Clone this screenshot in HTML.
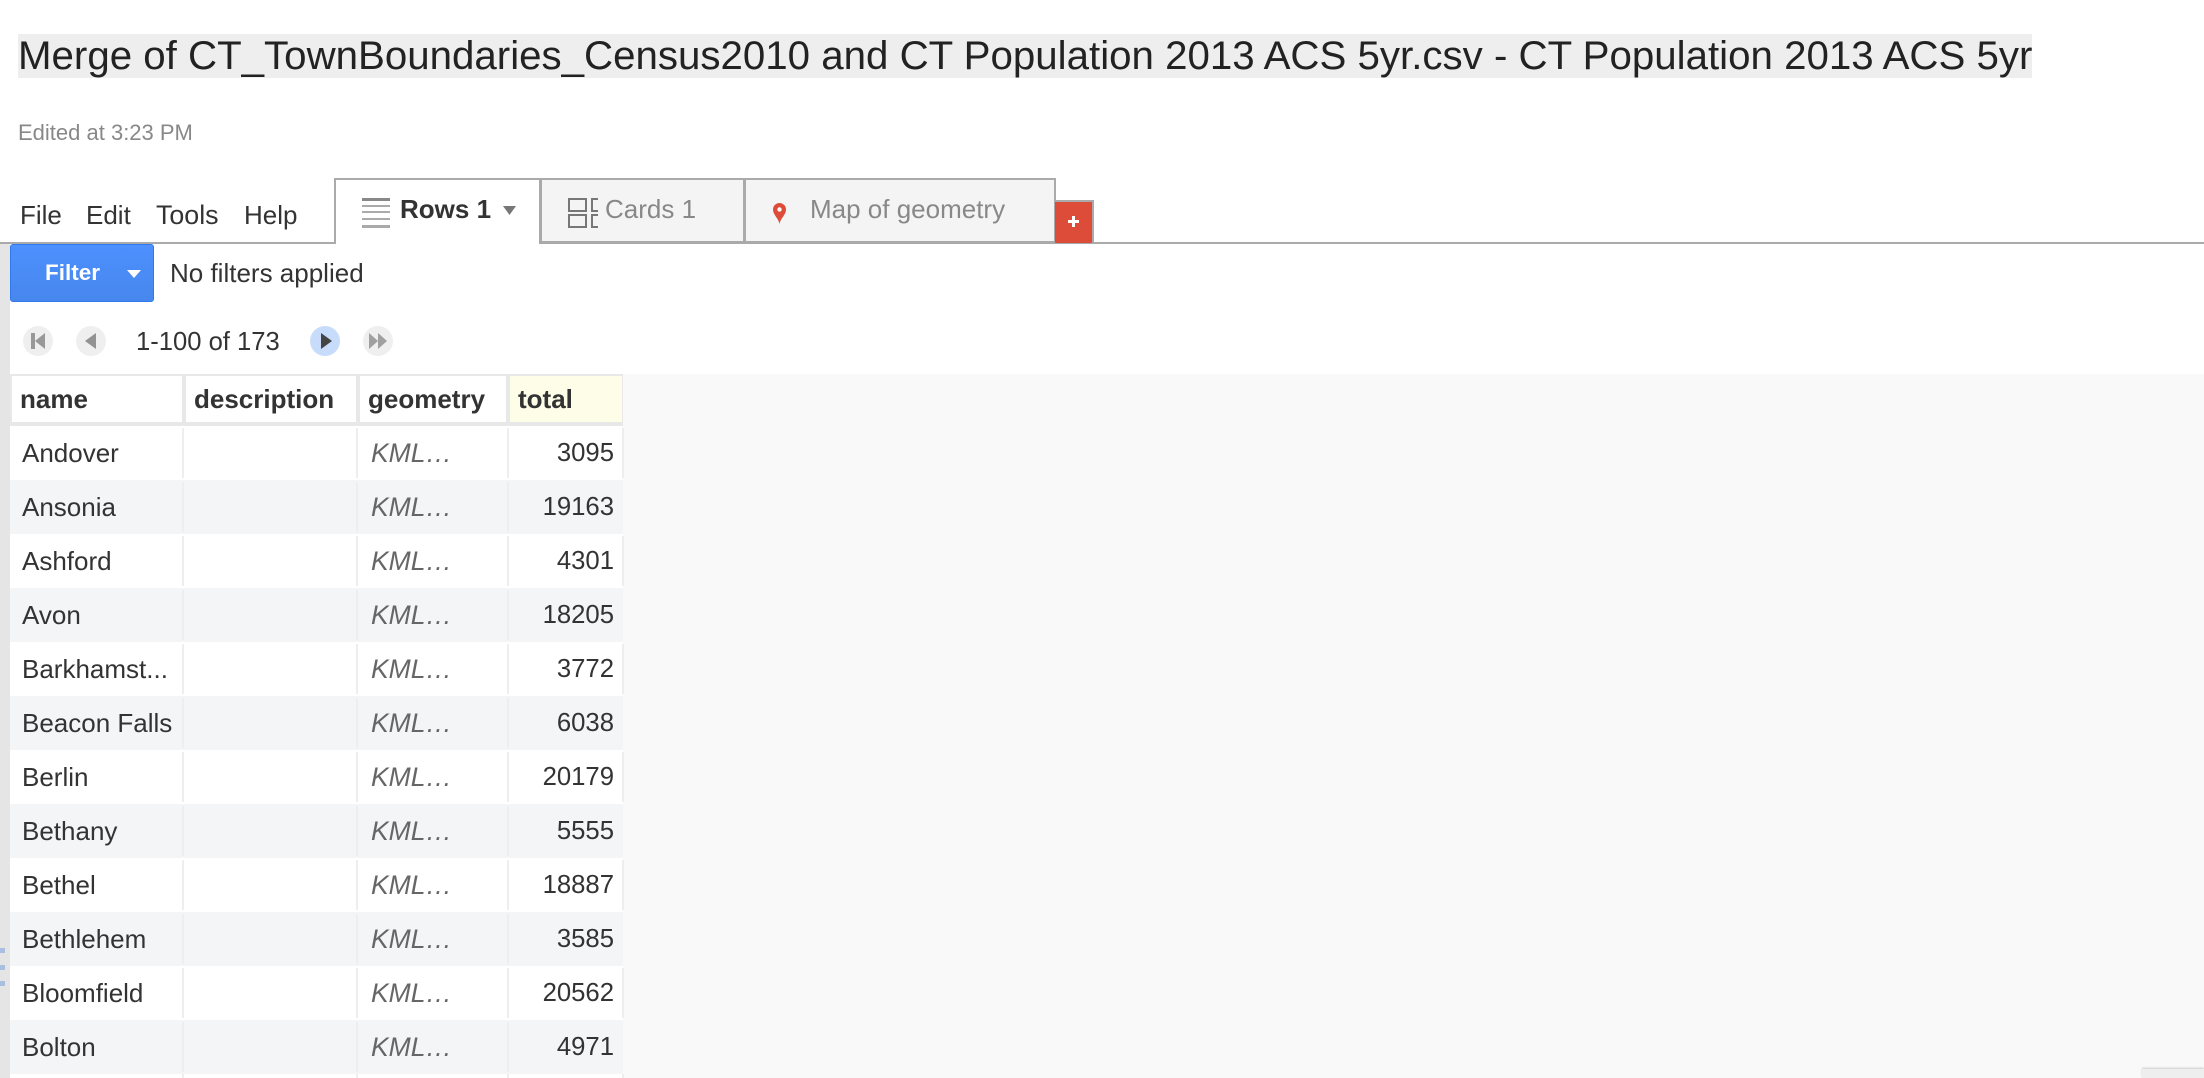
<!DOCTYPE html>
<html lang="en">
<head>
<meta charset="utf-8">
<title>Merge of CT_TownBoundaries_Census2010 and CT Population 2013 ACS 5yr.csv</title>
<style>
html,body{margin:0;padding:0;background:#fff;}
#page{position:relative;width:2204px;height:1078px;overflow:hidden;background:#fff;font-family:"Liberation Sans",Arial,sans-serif;color:#333;}
#page div,#page span.a,#page svg{position:absolute;}
.t{white-space:nowrap;line-height:1;font-size:26px;}
.cell{height:54px;box-sizing:border-box;}
.row-bg{left:10px;width:613px;height:54px;}
.alt{background:#f4f5f6;}
.sep{width:2px;height:50px;background:#eeeeee;}
.hdr{top:376px;height:46px;background:#fff;}
.hl{top:386px;font-weight:bold;color:#333;}
.nm{left:22px;}
.km{left:371px;font-style:italic;color:#666;font-size:26.5px;}
.nu{right:1590px;text-align:right;font-size:25.7px;margin-top:1px;}
</style>
</head>
<body>
<div id="page">

<div style="left:18px;top:34px;width:2014px;height:44px;background:#eeeeee;"></div>
<div class="t" style="left:18px;top:36px;font-size:40.25px;color:#222;">Merge of CT_TownBoundaries_Census2010 and CT Population 2013 ACS 5yr.csv - CT Population 2013 ACS 5yr</div>
<div class="t" style="left:18px;top:122px;font-size:22px;color:#888;">Edited at 3:23 PM</div>

<div style="left:0;top:200px;width:334px;height:40px;">
<div class="t" style="left:20px;top:2px;">File</div>
<div class="t" style="left:86px;top:2px;">Edit</div>
<div class="t" style="left:156px;top:2px;font-size:26.8px;">Tools</div>
<div class="t" style="left:244px;top:2px;">Help</div>
</div>

<div style="left:0;top:242px;width:2204px;height:2px;background:#aaaaaa;"></div>

<div style="left:334px;top:178px;width:207px;height:66px;box-sizing:border-box;border:2px solid #aaaaaa;border-bottom:none;background:#fff;">
<svg style="left:26px;top:18px;" width="28" height="30" viewBox="0 0 28 30">
<rect x="0" y="0" width="28" height="3" fill="#888"/><rect x="0" y="7" width="28" height="2" fill="#aaa"/><rect x="0" y="13" width="28" height="2" fill="#aaa"/><rect x="0" y="20" width="28" height="2" fill="#aaa"/><rect x="0" y="27" width="28" height="3" fill="#aaa"/>
</svg>
<div class="t" style="left:64px;top:16px;font-weight:bold;color:#333;">Rows 1</div>
<svg style="left:167px;top:26px;" width="13" height="9" viewBox="0 0 13 9"><polygon points="0,0 13,0 6.5,9" fill="#777"/></svg>
</div>

<div style="left:540px;top:178px;width:205px;height:65px;box-sizing:border-box;border:2px solid #aaaaaa;border-left:2px solid #aaaaaa;background:#f4f4f4;">
<svg style="left:26px;top:18px;" width="30" height="30" viewBox="0 0 30 30">
<rect x="1" y="1" width="17" height="12" fill="none" stroke="#777" stroke-width="2"/><rect x="1" y="17" width="17" height="12" fill="none" stroke="#777" stroke-width="2"/>
<path d="M30 1H24V13H30M30 17H24V29H30" fill="none" stroke="#777" stroke-width="2"/>
</svg>
<div class="t" style="left:63px;top:16px;color:#888;">Cards 1</div>
</div>

<div style="left:744px;top:178px;width:312px;height:65px;box-sizing:border-box;border:2px solid #aaaaaa;border-left:2px solid #aaaaaa;background:#f4f4f4;">
<svg style="left:27px;top:23px;" width="13" height="21" viewBox="0 0 13 21"><path d="M6.5 21C5.5 15 0 12 0 6.5a6.5 6.5 0 0 1 13 0C13 12 7.5 15 6.5 21z" fill="#dd4b39"/><circle cx="6.5" cy="6.5" r="2.2" fill="#fff"/></svg>
<div class="t" style="left:64px;top:16px;color:#888;">Map of geometry</div>
</div>

<div style="left:1055px;top:200px;width:39px;height:43px;box-sizing:border-box;border:2px solid #aaaaaa;border-left:none;border-bottom:none;background:#dd4b39;">
<svg style="left:13px;top:14px;" width="11" height="11" viewBox="0 0 11 11"><path d="M4 0h3v4h4v3H7v4H4V7H0V4h4z" fill="#fff"/></svg>
</div>

<div style="left:0;top:244px;width:10px;height:834px;background:#e5e5e5;"></div>
<div style="left:0;top:948px;width:5px;height:5px;background:#a8bfe2;"></div>
<div style="left:0;top:965px;width:5px;height:5px;background:#a8bfe2;"></div>
<div style="left:0;top:981px;width:5px;height:5px;background:#a8bfe2;"></div>

<div style="left:10px;top:244px;width:144px;height:58px;box-sizing:border-box;border:1px solid #3079ed;border-radius:3px;background:linear-gradient(#4d90fe,#4787ed);">
<div class="t" style="left:34px;top:17px;font-size:22.5px;font-weight:bold;color:#fff;">Filter</div>
<svg style="left:116px;top:25px;" width="14" height="8" viewBox="0 0 14 8"><polygon points="0,0 14,0 7,8" fill="#fff"/></svg>
</div>
<div class="t" style="left:170px;top:260px;color:#333;">No filters applied</div>

<div style="left:23px;top:326px;width:30px;height:30px;border-radius:50%;background:#efefef;">
<svg style="left:7px;top:6px;" width="16" height="18" viewBox="0 0 16 18"><rect x="1" y="1" width="4" height="16" fill="#999"/><polygon points="15,1 15,17 5,9" fill="#999"/></svg>
</div>
<div style="left:76px;top:326px;width:30px;height:30px;border-radius:50%;background:#efefef;">
<svg style="left:8px;top:6px;" width="12" height="18" viewBox="0 0 12 18"><polygon points="12,1 12,17 1,9" fill="#929292"/></svg>
</div>
<div class="t" style="left:136px;top:330px;font-size:25.6px;color:#333;">1-100 of 173</div>
<div style="left:310px;top:326px;width:30px;height:30px;border-radius:50%;background:#c7dcfa;">
<svg style="left:11px;top:6px;" width="12" height="18" viewBox="0 0 12 18"><polygon points="0,1 0,17 11,9" fill="#444"/></svg>
</div>
<div style="left:363px;top:326px;width:30px;height:30px;border-radius:50%;background:#efefef;">
<svg style="left:6px;top:7px;" width="18" height="16" viewBox="0 0 18 16"><polygon points="0,0 0,16 9,8" fill="#a0a0a0"/><polygon points="9,0 9,16 18,8" fill="#a0a0a0"/></svg>
</div>

<div style="left:623px;top:374px;width:1581px;height:704px;background:#f9f9f9;"></div>
<div style="left:2142px;top:1069px;width:62px;height:9px;background:#eeeeee;box-shadow:0 -1px 2px #cccccc;"></div>

<div style="left:10px;top:374px;width:613px;height:52px;background:#e8e8e8;"></div>
<div class="hdr" style="left:12px;width:170px;"></div>
<div class="hdr" style="left:186px;width:170px;"></div>
<div class="hdr" style="left:360px;width:146px;"></div>
<div class="hdr" style="left:510px;width:112px;background:#fdfde8;"></div>
<div class="t hl" style="left:20px;">name</div>
<div class="t hl" style="left:194px;">description</div>
<div class="t hl" style="left:368px;">geometry</div>
<div class="t hl" style="left:518px;">total</div>

<div class="row-bg" style="top:426px;"><div class="sep" style="left:172px;top:2px;"></div><div class="sep" style="left:346px;top:2px;"></div><div class="sep" style="left:497px;top:2px;"></div><div class="sep" style="left:612px;top:2px;"></div></div>
<div class="row-bg alt" style="top:480px;"><div class="sep" style="left:172px;top:2px;"></div><div class="sep" style="left:346px;top:2px;"></div><div class="sep" style="left:497px;top:2px;"></div></div>
<div class="row-bg" style="top:534px;"><div class="sep" style="left:172px;top:2px;"></div><div class="sep" style="left:346px;top:2px;"></div><div class="sep" style="left:497px;top:2px;"></div><div class="sep" style="left:612px;top:2px;"></div></div>
<div class="row-bg alt" style="top:588px;"><div class="sep" style="left:172px;top:2px;"></div><div class="sep" style="left:346px;top:2px;"></div><div class="sep" style="left:497px;top:2px;"></div></div>
<div class="row-bg" style="top:642px;"><div class="sep" style="left:172px;top:2px;"></div><div class="sep" style="left:346px;top:2px;"></div><div class="sep" style="left:497px;top:2px;"></div><div class="sep" style="left:612px;top:2px;"></div></div>
<div class="row-bg alt" style="top:696px;"><div class="sep" style="left:172px;top:2px;"></div><div class="sep" style="left:346px;top:2px;"></div><div class="sep" style="left:497px;top:2px;"></div></div>
<div class="row-bg" style="top:750px;"><div class="sep" style="left:172px;top:2px;"></div><div class="sep" style="left:346px;top:2px;"></div><div class="sep" style="left:497px;top:2px;"></div><div class="sep" style="left:612px;top:2px;"></div></div>
<div class="row-bg alt" style="top:804px;"><div class="sep" style="left:172px;top:2px;"></div><div class="sep" style="left:346px;top:2px;"></div><div class="sep" style="left:497px;top:2px;"></div></div>
<div class="row-bg" style="top:858px;"><div class="sep" style="left:172px;top:2px;"></div><div class="sep" style="left:346px;top:2px;"></div><div class="sep" style="left:497px;top:2px;"></div><div class="sep" style="left:612px;top:2px;"></div></div>
<div class="row-bg alt" style="top:912px;"><div class="sep" style="left:172px;top:2px;"></div><div class="sep" style="left:346px;top:2px;"></div><div class="sep" style="left:497px;top:2px;"></div></div>
<div class="row-bg" style="top:966px;"><div class="sep" style="left:172px;top:2px;"></div><div class="sep" style="left:346px;top:2px;"></div><div class="sep" style="left:497px;top:2px;"></div><div class="sep" style="left:612px;top:2px;"></div></div>
<div class="row-bg alt" style="top:1020px;"><div class="sep" style="left:172px;top:2px;"></div><div class="sep" style="left:346px;top:2px;"></div><div class="sep" style="left:497px;top:2px;"></div></div>
<div class="row-bg" style="top:1074px;"><div class="sep" style="left:172px;top:0;"></div><div class="sep" style="left:346px;top:0;"></div><div class="sep" style="left:497px;top:0;"></div><div class="sep" style="left:612px;top:0;"></div></div>

<div class="t nm" style="top:440px;">Andover</div><div class="t km" style="top:440px;">KML…</div><div class="t nu" style="top:440px;">3095</div>
<div class="t nm" style="top:494px;">Ansonia</div><div class="t km" style="top:494px;">KML…</div><div class="t nu" style="top:494px;">19163</div>
<div class="t nm" style="top:548px;">Ashford</div><div class="t km" style="top:548px;">KML…</div><div class="t nu" style="top:548px;">4301</div>
<div class="t nm" style="top:602px;">Avon</div><div class="t km" style="top:602px;">KML…</div><div class="t nu" style="top:602px;">18205</div>
<div class="t nm" style="top:656px;">Barkhamst...</div><div class="t km" style="top:656px;">KML…</div><div class="t nu" style="top:656px;">3772</div>
<div class="t nm" style="top:710px;">Beacon Falls</div><div class="t km" style="top:710px;">KML…</div><div class="t nu" style="top:710px;">6038</div>
<div class="t nm" style="top:764px;">Berlin</div><div class="t km" style="top:764px;">KML…</div><div class="t nu" style="top:764px;">20179</div>
<div class="t nm" style="top:818px;">Bethany</div><div class="t km" style="top:818px;">KML…</div><div class="t nu" style="top:818px;">5555</div>
<div class="t nm" style="top:872px;">Bethel</div><div class="t km" style="top:872px;">KML…</div><div class="t nu" style="top:872px;">18887</div>
<div class="t nm" style="top:926px;">Bethlehem</div><div class="t km" style="top:926px;">KML…</div><div class="t nu" style="top:926px;">3585</div>
<div class="t nm" style="top:980px;">Bloomfield</div><div class="t km" style="top:980px;">KML…</div><div class="t nu" style="top:980px;">20562</div>
<div class="t nm" style="top:1034px;">Bolton</div><div class="t km" style="top:1034px;">KML…</div><div class="t nu" style="top:1034px;">4971</div>

</div>
</body>
</html>
